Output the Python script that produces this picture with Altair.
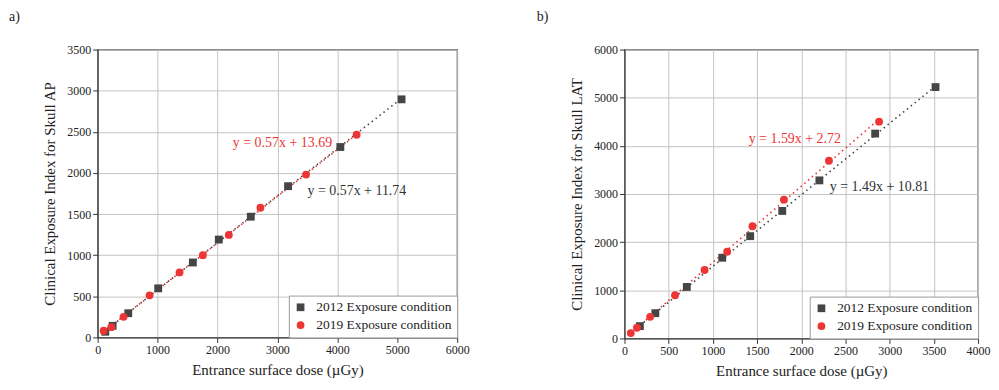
import altair as alt
import pandas as pd

FONT = "Liberation Serif"
S12 = "2012 Exposure condition"
S19 = "2019 Exposure condition"
DARK = "#454545"
RED = "#ee3535"

# ---- Panel a) Skull AP ----
ap_2012_dose = [128, 250, 511, 1011, 1589, 2022, 2556, 3178, 4050, 5072]
ap_2012_cei = [69, 141, 294, 597, 911, 1190, 1468, 1839, 2315, 2895]
ap_2019_dose = [100, 228, 433, 867, 1367, 1756, 2189, 2717, 3478, 4322]
ap_2019_cei = [81, 125, 250, 512, 790, 1000, 1246, 1577, 1980, 2464]
ap_eq_text = ["y = 0.57x + 13.69", "y = 0.57x + 11.74"]
ap_eq_x = [3085, 4326]
ap_eq_y = [2361, 1780]

# ---- Panel b) Skull LAT ----
lat_2012_dose = [174, 349, 705, 1106, 1422, 1785, 2205, 2836, 3519]
lat_2012_cei = [255, 524, 1069, 1676, 2124, 2648, 3283, 4255, 5221]
lat_2019_dose = [71, 141, 290, 572, 906, 1162, 1448, 1804, 2313, 2880]
lat_2019_cei = [110, 221, 448, 897, 1421, 1800, 2331, 2883, 3690, 4503]
lat_eq_text = ["y = 1.59x + 2.72", "y = 1.49x + 10.81"]
lat_eq_x = [1927, 2884]
lat_eq_y = [4138, 3145]


def make_df(d12, c12, d19, c19):
    return pd.DataFrame({
        "dose": d12 + d19,
        "cei": c12 + c19,
        "series": [S12] * len(d12) + [S19] * len(d19),
    })


def axis(major, minor, maxv, title, tick_major=5, tick_minor=3):
    vals = list(range(0, maxv + 1, minor))
    test = f"datum.value % {major} === 0"
    return alt.Axis(
        title=title,
        values=vals,
        labelExpr=f"{test} ? datum.label : ''",
        labelOverlap=False,
        labelFlush=False,
        format="d",
        tickSize={"condition": {"test": test, "value": tick_major}, "value": tick_minor},
        gridOpacity={"condition": {"test": test, "value": 1}, "value": 0},
        gridColor="#c4c4c4",
        domainColor="#333",
        tickColor="#333",
        labelFont=FONT,
        labelFontSize=12,
        labelColor="#222",
        titleFont=FONT,
        titleFontSize=15,
        titleFontWeight="normal",
        titleColor="#222",
    )


LEG = alt.Legend(title=None, orient="bottom-right", offset=0,
                 fillColor="white", strokeColor="#999",
                 padding=5, labelFont=FONT, labelFontSize=13.5, labelOffset=9,
                 labelColor="#222", symbolSize=60, rowPadding=3)


def panel(df, xmax, ymax, xmaj, xmin, ymaj, ymin, ytitle, eq_text, eq_x, eq_y, label, w, h, dx):
    xs = alt.Scale(domain=[0, xmax], nice=False)
    ys = alt.Scale(domain=[0, ymax], nice=False)
    xax = axis(xmaj, xmin, xmax, "Entrance surface dose (µGy)")
    yax = axis(ymaj, ymin, ymax, ytitle)
    yax["titlePadding"] = 9
    xax["titlePadding"] = 7

    base = alt.Chart(df)

    def trend(series, colour):
        return base.transform_filter(
            alt.datum.series == series
        ).transform_regression("dose", "cei", method="linear").mark_line(
            strokeDash=[1.5, 3.5], strokeWidth=1.6, color=colour
        ).encode(
            x=alt.X("dose:Q", scale=xs, axis=xax),
            y=alt.Y("cei:Q", scale=ys, axis=yax),
        )

    pts = base.mark_point(filled=True, opacity=1, size=62).encode(
        x=alt.X("dose:Q", scale=xs),
        y=alt.Y("cei:Q", scale=ys),
        color=alt.Color("series:N", scale=alt.Scale(domain=[S12, S19], range=[DARK, RED]), legend=LEG),
        shape=alt.Shape("series:N", scale=alt.Scale(domain=[S12, S19], range=["square", "circle"]), legend=LEG),
    )
    eq = pd.DataFrame({"x": eq_x, "y": eq_y, "t": eq_text})
    t_red = alt.Chart(eq.iloc[[0]]).mark_text(font=FONT, fontSize=14, color=RED).encode(
        x="x:Q", y="y:Q", text="t:N")
    t_dark = alt.Chart(eq.iloc[[1]]).mark_text(font=FONT, fontSize=14, color="#333").encode(
        x="x:Q", y="y:Q", text="t:N")
    return alt.layer(trend(S12, DARK), trend(S19, RED), pts, t_red, t_dark).properties(
        width=w, height=h,
        title=alt.TitleParams(label, anchor="start", frame="group", dx=dx, offset=20,
                              font=FONT, fontSize=14, fontWeight="normal", color="#222"),
    )


left = panel(make_df(ap_2012_dose, ap_2012_cei, ap_2019_dose, ap_2019_cei),
             6000, 3500, 1000, 500, 500, 250,
             "Clinical Exposure Index for Skull AP",
             ap_eq_text, ap_eq_x, ap_eq_y, "a)", 361, 289, -89)
right = panel(make_df(lat_2012_dose, lat_2012_cei, lat_2019_dose, lat_2019_cei),
              4000, 6000, 500, 250, 1000, 500,
              "Clinical Exposure Index for Skull LAT",
              lat_eq_text, lat_eq_x, lat_eq_y, "b)", 355, 290, -88)

chart = alt.hconcat(left, right, spacing=66).resolve_scale(
    color="independent", shape="independent"
).resolve_legend(
    color="independent", shape="independent"
).properties(padding=0).configure_view(
    stroke="#333", strokeWidth=1.3
)

chart.save("out.html", embed_options={"renderer": "svg", "actions": False})
